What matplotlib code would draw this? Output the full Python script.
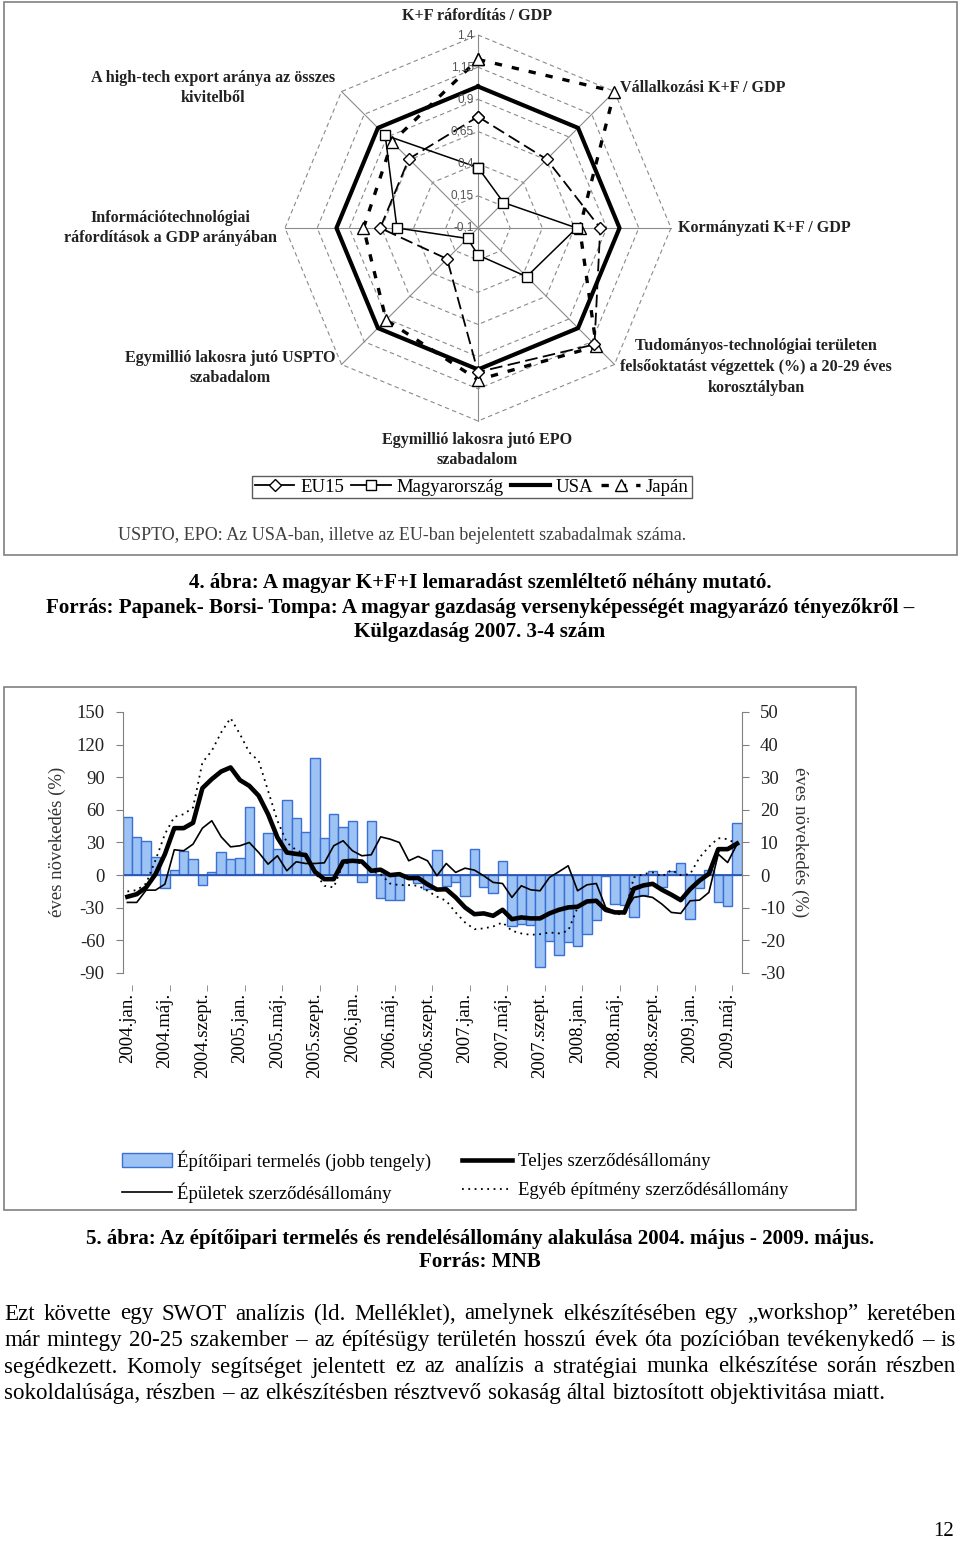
import numpy as np
import matplotlib
matplotlib.use('Agg')
import matplotlib.pyplot as plt
from matplotlib.lines import Line2D
from matplotlib.patches import Rectangle, Patch

plt.rcParams['font.family'] = ['Liberation Serif', 'DejaVu Serif']
plt.rcParams['axes.unicode_minus'] = False

W, H = 960, 1545

### Radar chart data (axes clockwise from the top)
radar_labels = ['K+F ráfordítás / GDP', 'Vállalkozási K+F / GDP', 'Kormányzati K+F / GDP',
                'Tudományos', 'EPO', 'USPTO', 'Információtechnológiai', 'High-tech export']
eu15 = [0.765, 0.655, 0.85, 1.18, 1.02, 0.24, 0.66, 0.66]
hungary = [0.37, 0.18, 0.667, 0.435, 0.11, 0.015, 0.53, 0.92]
usa = [1.0, 1.0, 1.0, 1.0, 1.0, 1.0, 1.0, 1.0]
japan = [1.21, 1.4, 0.69, 1.2, 1.08, 0.91, 0.79, 0.845]
ring_vals = [0.15, 0.4, 0.65, 0.9, 1.15, 1.4]
ring_labels = ['-0,1', '0,15', '0,4', '0,65', '0,9', '1,15', '1,4']

### Construction chart data, monthly 2004.jan - 2009.jun
month_labels = ['2004.jan.', '2004.máj.', '2004.szept.', '2005.jan.', '2005.máj.', '2005.szept.',
                '2006.jan.', '2006.máj.', '2006.szept.', '2007.jan.', '2007.máj.', '2007.szept.',
                '2008.jan.', '2008.máj.', '2008.szept.', '2009.jan.', '2009.máj.']
production = [17.8, 11.7, 10.5, 5.7, -4.0, 1.5, 7.5, 4.9, -3.1, 1.1,
              7.2, 4.9, 5.3, 20.8, 0.4, 12.9, 8.0, 23.1, 17.5, 13.3,
              36.0, 11.4, 18.6, 14.8, 16.6, -2.1, 16.6, -7.0, -7.7, -7.7,
              -0.6, -2.4, -4.4, 7.6, -3.2, -2.0, -6.5, 7.9, -3.6, -5.4,
              4.2, -15.6, -15.1, -15.3, -28.2, -20.1, -24.4, -20.4, -21.8, -17.9,
              -13.8, -0.3, -8.9, -9.2, -12.7, -6.2, 1.2, -3.6, 1.4, 3.8,
              -13.5, -3.9, 1.5, -8.1, -9.6, 15.9]
total_orders = [-19.9, -17.5, -11.3, 0.9, 19.3, 43.2, 43.2, 48.1, 80, 88.3,
                95.3, 99, 87.4, 82.1, 73, 56, 34.6, 20.8, 19.5, 18.5,
                3, -3.7, -3.7, 12.5, 13.2, 12.5, 4, 5, 0, 0.9,
                -2.8, -2.6, -8.5, -13.3, -13, -20.5, -29.7, -35.9, -35.2, -37.4,
                -31.9, -40.5, -38.9, -39.8, -39.8, -35.2, -31.9, -29.7, -29.1, -24.2,
                -23.6, -32, -34.3, -34.3, -12.5, -9.5, -8, -13.5, -18, -23,
                -12.9, -5, 1.2, 23.9, 23.9, 29]
building_orders = [-25.1, -25.1, -13.8, -13.8, -8.3, 23.3, 22.4, 28.5, 43.2, 50,
                   35.2, 26, 27, 30, 20.8, 10.1, 17.8, 4, 12.3, 10.7,
                   10.7, 11.3, 27, 31.6, 22.4, 17.8, 18.7, 35.2, 33.1, 30,
                   13.2, 17.2, 13.2, -0.6, 10.7, 2.5, 6.4, 4.6, -0.6, -6.7,
                   -7.7, -20.5, -9.8, -13.5, -14.4, -2.1, 3.1, 8.6, -14.4, -8.9,
                   -7.7, -29.7, -33.7, -34.3, -20.5, -19, -20.5, -26.7, -34.3, -35.2,
                   -23.6, -23, -15.9, 19.3, 11.6, 28.5]
other_orders = [-15, -13.8, -7.7, 13.8, 37.7, 53.6, 56, 62.2, 103.6, 114.3,
                131.2, 144.4, 129.7, 112.8, 105.1, 77.5, 50, 30, 23, 19.3,
                2.5, -9.8, -11.3, 10.1, 12.6, 10.7, 4, 0.9, -7.7, -9.2,
                -9.2, -9.8, -14.4, -19.8, -23.6, -34.3, -43.5, -49.7, -49, -47.2,
                -43.5, -51.2, -53.6, -54.9, -54.3, -52.7, -53.6, -51.2, -29.7, -25.1,
                -23.6, -31.3, -35.9, -35.9, -2.1, 0.9, 2.5, -1.2, 4.6, 0,
                0.9, 16.2, 26, 34, 33.1, 28.5]

paragraph = ['Ezt követte egy SWOT analízis (ld. Melléklet), amelynek elkészítésében egy „workshop” keretében',
             'már mintegy 20-25 szakember – az építésügy területén hosszú évek óta pozícióban tevékenykedő – is',
             'segédkezett. Komoly segítséget jelentett ez az analízis a stratégiai munka elkészítése során részben',
             'sokoldalúsága, részben – az elkészítésben résztvevő sokaság által biztosított objektivitása miatt.']


def fx(x):
    return x / W


def fy(y):
    return 1 - y / H


fig = plt.figure(figsize=(W / 100, H / 100), dpi=100)

# page frames
fig.add_artist(Rectangle((fx(4), fy(555)), 953 / W, 553 / H, fill=False,
                         ec='#808080', lw=1.2, transform=fig.transFigure))
fig.add_artist(Rectangle((fx(4), fy(1210)), 852 / W, 523 / H, fill=False,
                         ec='#808080', lw=1.2, transform=fig.transFigure))

### Radar
cx, cy, R = 478, 228, 193
rad = fig.add_axes([fx(cx - R), fy(cy + R), 2 * R / W, 2 * R / H], projection='polar')
rad.set_theta_zero_location('N')
rad.set_theta_direction(-1)
rad.set_ylim(-0.1, 1.4)
rad.set_axis_off()
theta = np.arange(8) * np.pi / 4
closed = np.append(theta, theta[0])
for r in ring_vals:
    rad.plot(closed, [r] * 9, color='#8a8a8a', lw=0.8, ls=(0, (4, 3)), clip_on=False)
for t in theta:
    rad.plot([t, t], [-0.1, 1.4], color='#8a8a8a', lw=0.8, clip_on=False)
for v, lab in zip([-0.1] + ring_vals, ring_labels):
    rad.annotate(lab, (0, v), xytext=(-3, 0), textcoords='offset points', ha='right', va='center',
                 fontsize=8.5, color='#555555', family='Liberation Sans')

rad.plot(closed, usa + usa[:1], color='black', lw=3, clip_on=False)
rad.plot(closed, japan + japan[:1], color='black', lw=2.4, ls=(0, (2.2, 3)), marker='^', ms=9,
         mfc='white', mec='black', mew=1, clip_on=False)
rad.plot(closed, eu15 + eu15[:1], color='black', lw=1.3, ls=(0, (7, 3)), marker='D', ms=6,
         mfc='white', mec='black', mew=1, clip_on=False)
rad.plot(closed, hungary + hungary[:1], color='black', lw=1.1, marker='s', ms=7,
         mfc='white', mec='black', mew=1, clip_on=False)

lab_kw = dict(fontsize=11.6, weight='bold', color='#222222', linespacing=1.4)
fig.text(fx(477), fy(16), 'K+F ráfordítás / GDP', ha='center', va='center', **lab_kw)
fig.text(fx(213), fy(88), 'A high-tech export aránya az összes\nkivitelből', ha='center', va='center', **lab_kw)
fig.text(fx(620), fy(88), 'Vállalkozási K+F / GDP', ha='left', va='center', **lab_kw)
fig.text(fx(170), fy(228), 'Információtechnológiai\nráfordítások a GDP arányában', ha='center', va='center', **lab_kw)
fig.text(fx(678), fy(228), 'Kormányzati K+F / GDP', ha='left', va='center', **lab_kw)
fig.text(fx(230), fy(368), 'Egymillió lakosra jutó USPTO\nszabadalom', ha='center', va='center', **lab_kw)
fig.text(fx(756), fy(367), 'Tudományos-technológiai területen\nfelsőoktatást végzettek (%) a 20-29 éves\nkorosztályban',
         ha='center', va='center', **lab_kw)
fig.text(fx(477), fy(450), 'Egymillió lakosra jutó EPO\nszabadalom', ha='center', va='center', **lab_kw)

rad_handles = [Line2D([], [], color='black', lw=1.3, marker='D', ms=6, mfc='white', mec='black'),
               Line2D([], [], color='black', lw=1.3, marker='s', ms=7, mfc='white', mec='black'),
               Line2D([], [], color='black', lw=3),
               Line2D([], [], color='black', lw=2.4, ls=(0, (2.2, 3)), marker='^', ms=8, mfc='white', mec='black')]
leg1 = fig.legend(rad_handles, ['EU15', 'Magyarország', 'USA', 'Japán'], loc='center',
                  bbox_to_anchor=(fx(472), fy(487)), ncol=4, fontsize=13.5, frameon=True, fancybox=False,
                  edgecolor='#333333', handlelength=2.1, handletextpad=0.3, columnspacing=0.4,
                  borderpad=0.15, borderaxespad=0)
leg1.get_frame().set_linewidth(1.0)

fig.text(fx(118), fy(535), 'USPTO, EPO: Az USA-ban, illetve az EU-ban bejelentett szabadalmak száma.',
         ha='left', va='center', fontsize=13, color='#404040')

cap_kw = dict(ha='center', va='center', fontsize=15.1, weight='bold')
fig.text(fx(480), fy(583), '4. ábra: A magyar K+F+I lemaradást szemléltető néhány mutató.', **cap_kw)
fig.text(fx(480), fy(608), 'Forrás: Papanek- Borsi- Tompa: A magyar gazdaság versenyképességét magyarázó tényezőkről –', **cap_kw)
fig.text(fx(480), fy(632), 'Külgazdaság 2007. 3-4 szám', **cap_kw)

### Bars + lines
left, right, top, bot = 122.7, 741.7, 712, 973
axb = fig.add_axes([fx(left), fy(bot), (right - left) / W, (bot - top) / H])
axl = axb.twinx()
x = np.arange(len(production))

axb.bar(x, production, width=1.0, color='#9cc3f3', edgecolor='#3a6fd6', lw=1, zorder=2)
axb.axhline(0, color='#2b55b5', lw=1.3, zorder=3)
axb.set_xlim(-0.5, len(production) - 0.5)
axb.set_ylim(-30, 50)
axb.set_yticks(range(-30, 51, 10))
axb.yaxis.tick_right()

axl.plot(x, other_orders, color='black', lw=1.3, ls=(0, (1, 2.5)))
axl.plot(x, building_orders, color='black', lw=1.2)
axl.plot(x, total_orders, color='black', lw=3.3)
axl.set_ylim(-90, 150)
axl.set_yticks(range(-90, 151, 30))
axl.yaxis.tick_left()

for a in (axb, axl):
    for s in a.spines.values():
        s.set_visible(False)
    a.tick_params(axis='y', labelsize=13.5, colors='#808080', labelcolor='#222222', length=5, pad=8)
axl.spines['left'].set_visible(True)
axl.spines['left'].set_color('#808080')
axb.spines['right'].set_visible(True)
axb.spines['right'].set_color('#808080')

axb.spines['bottom'].set_position(('outward', 13))
axb.set_xticks(range(0, len(production), 4))
axb.set_xticklabels(month_labels, rotation=90, va='top', ha='center')
axb.set_xticks(np.arange(0.5, len(production), 4), minor=True)
axb.tick_params(axis='x', which='major', length=0, labelsize=13.5, pad=1)
axb.tick_params(axis='x', which='minor', length=4, direction='in', color='#808080')

fig.text(fx(57), fy(842), 'éves növekedés (%)', rotation=90, ha='center', va='center', fontsize=13.5, color='#333333')
fig.text(fx(800), fy(842), 'éves növekedés (%)', rotation=270, ha='center', va='center', fontsize=13.5, color='#333333')

bar_handles = [Patch(fc='#9cc3f3', ec='#3a6fd6', lw=1),
               Line2D([], [], color='black', lw=1.2),
               Line2D([], [], color='black', lw=3.3),
               Line2D([], [], color='black', lw=1.3, ls=(0, (1, 2.5)))]
fig.legend(bar_handles, ['Építőipari termelés (jobb tengely)', 'Épületek szerződésállomány',
                         'Teljes szerződésállomány', 'Egyéb építmény szerződésállomány'],
           loc='upper left', bbox_to_anchor=(fx(122), fy(1150)), ncol=2, frameon=False, fontsize=13.5,
           handlelength=2.65, handletextpad=0.3, columnspacing=1.65, labelspacing=0.62,
           borderpad=0, borderaxespad=0)

fig.text(fx(480), fy(1239), '5. ábra: Az építőipari termelés és rendelésállomány alakulása 2004. május - 2009. május.', **cap_kw)
fig.text(fx(480), fy(1262), 'Forrás: MNB', **cap_kw)

### justified body text
renderer = fig.canvas.get_renderer()
x0, x1 = 4, 956
body_size = 16.6
for n, line in enumerate(paragraph):
    y = 1314 + n * 26.5
    words = line.split(' ')
    ts = [fig.text(0, fy(y), w, ha='left', va='center', fontsize=body_size) for w in words]
    widths = [t.get_window_extent(renderer).width for t in ts]
    if n == len(paragraph) - 1:
        gap = body_size * 100 / 72 * 0.25
    else:
        gap = (x1 - x0 - sum(widths)) / (len(words) - 1)
    pos = x0
    for t, w in zip(ts, widths):
        t.set_x(fx(pos))
        pos += w + gap

fig.text(fx(944), fy(1532), '12', ha='center', va='center', fontsize=15)

fig.savefig('out.png', dpi=100)
